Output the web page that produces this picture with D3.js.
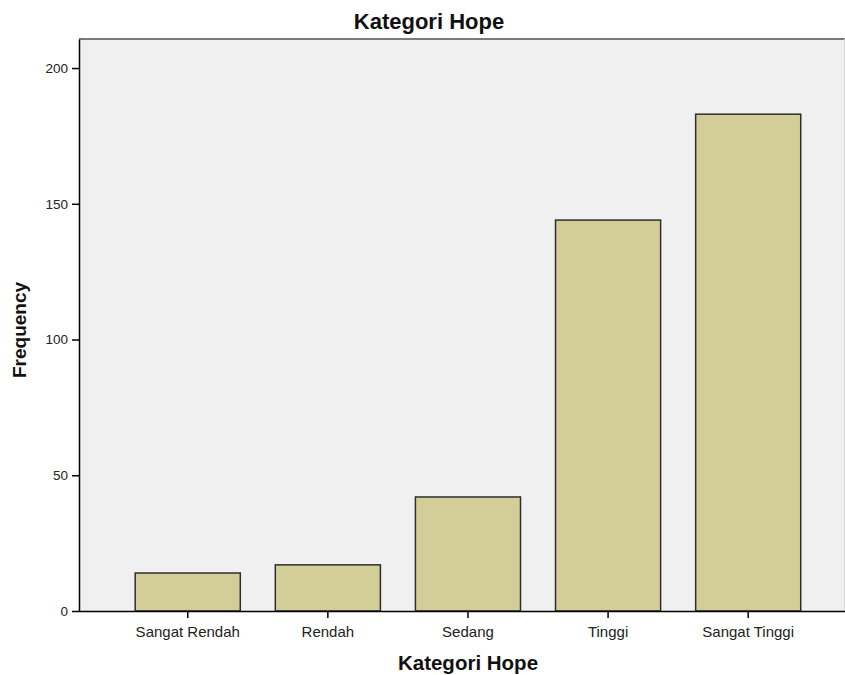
<!DOCTYPE html>
<html>
<head>
<meta charset="utf-8">
<script src="https://cdn.jsdelivr.net/npm/d3@7"></script>
<style>
  html, body { margin: 0; padding: 0; background: #ffffff; }
  svg { display: block; font-family: "Liberation Sans", Arial, sans-serif; }
</style>
</head>
<body>
<svg id="chart" width="845" height="675"></svg>
<script>
const categories = ["Sangat Rendah", "Rendah", "Sedang", "Tinggi", "Sangat Tinggi"];
const frequencies = [14, 17, 42, 144, 183];
const yTicks = [0, 50, 100, 150, 200];
const chartTitle = "Kategori Hope";
const xTitle = "Kategori Hope";
const yTitle = "Frequency";

const svg = d3.select("#chart");
const pLeft = 79, pRight = 844, pTop = 39, pBottom = 611;

const x = d3.scaleBand()
  .domain(categories)
  .range([pLeft, pRight])
  .paddingInner(0.25)
  .paddingOuter(0.355)
  .align(0.565);

const y = d3.scaleLinear()
  .domain([0, 210.7])
  .range([pBottom, pTop]);

// plot background
svg.append("rect")
  .attr("x", pLeft).attr("y", pTop)
  .attr("width", pRight - pLeft).attr("height", pBottom - pTop)
  .attr("fill", "#f0f0f0");

// top frame line
svg.append("line")
  .attr("x1", pLeft).attr("x2", pRight + 1)
  .attr("y1", pTop).attr("y2", pTop)
  .attr("stroke", "#7a7a7a").attr("stroke-width", 2);
// right faint frame
svg.append("line")
  .attr("x1", pRight + 0.5).attr("x2", pRight + 0.5)
  .attr("y1", pTop).attr("y2", pBottom)
  .attr("stroke", "#d8d8d8").attr("stroke-width", 1);

// bars
svg.append("g").selectAll("rect")
  .data(categories.map((c, i) => ({c, v: frequencies[i]})))
  .join("rect")
  .attr("x", d => x(d.c))
  .attr("y", d => y(d.v))
  .attr("width", x.bandwidth())
  .attr("height", d => y(0) - y(d.v))
  .attr("fill", "#d3ce97")
  .attr("stroke", "#2e2e2e")
  .attr("stroke-width", 1.5);

// y axis
const yAxis = svg.append("g")
  .attr("transform", `translate(${pLeft},0)`)
  .call(d3.axisLeft(y).tickValues(yTicks).tickSize(7).tickPadding(4).tickSizeOuter(0));
yAxis.select(".domain").attr("stroke", "#000").attr("stroke-width", 1.5);
yAxis.selectAll(".tick line").attr("stroke", "#000").attr("stroke-width", 1.5);
yAxis.selectAll(".tick text").attr("font-size", 13.5).attr("fill", "#222")
  .attr("font-family", "Liberation Sans, Arial, sans-serif");

// x axis
const xAxis = svg.append("g")
  .attr("transform", `translate(0,${pBottom})`)
  .call(d3.axisBottom(x).tickSize(7).tickPadding(8).tickSizeOuter(0));
xAxis.select(".domain").attr("stroke", "#000").attr("stroke-width", 1.5)
  .attr("d", `M${pLeft},0.5H${pRight + 1}`);
xAxis.selectAll(".tick line").attr("stroke", "#000").attr("stroke-width", 1.5);
xAxis.selectAll(".tick text").attr("font-size", 15).attr("fill", "#222")
  .attr("font-family", "Liberation Sans, Arial, sans-serif");

// title
svg.append("text")
  .attr("x", 429).attr("y", 29)
  .attr("text-anchor", "middle")
  .attr("font-size", 22).attr("font-weight", "bold").attr("fill", "#111")
  .text(chartTitle);

// x title
svg.append("text")
  .attr("x", 468).attr("y", 670)
  .attr("text-anchor", "middle")
  .attr("font-size", 20.5).attr("font-weight", "bold").attr("fill", "#111")
  .text(xTitle);

// y title
svg.append("text")
  .attr("transform", `translate(26,${(pTop + pBottom) / 2 + 5}) rotate(-90)`)
  .attr("text-anchor", "middle")
  .attr("font-size", 19).attr("font-weight", "bold").attr("fill", "#111")
  .text(yTitle);
</script>
</body>
</html>
